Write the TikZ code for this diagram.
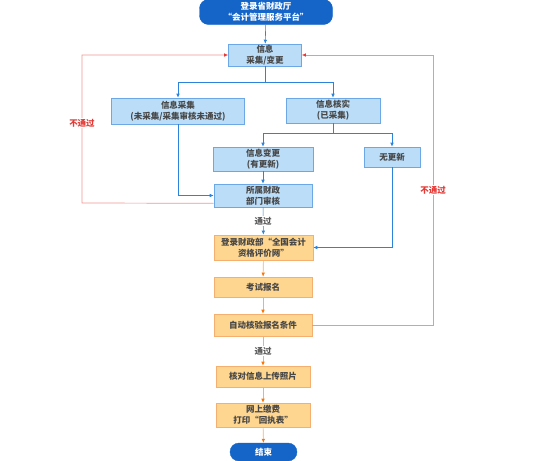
\documentclass[tikz,border=0pt]{standalone}
\usepackage{fontspec}
\newfontfamily\cjk{Noto Sans CJK SC}
\usepackage{tikz}
\usetikzlibrary{arrows.meta}
\definecolor{deepblue}{HTML}{1565C9}
\definecolor{boxblue}{HTML}{BBDDF8}
\definecolor{lineblue}{HTML}{2B83DA}
\definecolor{boxorange}{HTML}{FFD690}
\definecolor{lineorange}{HTML}{F5B070}
\definecolor{lred}{HTML}{F29494}
\definecolor{tred}{HTML}{E53935}

\begin{document}
\begin{tikzpicture}[x=1pt,y=-1pt,
	every node/.style={font=\cjk\bfseries\fontsize{8.5}{11}\selectfont,text=black!72,align=center,inner sep=1pt},
	term/.style={draw=deepblue,fill=deepblue,rounded corners=9pt,text=white,font=\cjk\bfseries\fontsize{8.5}{11}\selectfont},
	bbox/.style={draw=lineblue!70,fill=boxblue,line width=0.6pt},
	obox/.style={draw=lineorange,fill=boxorange,line width=0.6pt},
	barr/.style={draw=lineblue,line width=0.6pt,-{Latex[length=4pt,width=3.5pt]}},
	oarr/.style={draw=lineorange,line width=0.6pt,-{Latex[length=4pt,width=3.5pt,fill=orange!90!red,color=orange!90!red]}},
	nopass/.style={draw=lred,line width=0.7pt,-{Latex[length=4pt,width=3.5pt,color=tred]}},
	pass/.style={fill=white,text=black!65},
	fail/.style={fill=white,text=tred}]
\useasboundingbox (0,0) rectangle (550,461);
\node [term,minimum width=133pt,minimum height=25pt] (start) at (266,12) {登录省财政厅\\“会计管理服务平台”};
\node [bbox,minimum width=73pt,minimum height=20pt] (info) at (265,55) {信息\\采集/变更};
\node [bbox,minimum width=133pt,minimum height=26pt] (collect) at (178,111) {信息采集\\(未采集/采集审核未通过)};
\node [bbox,minimum width=94pt,minimum height=25pt] (verify) at (333,110.5) {信息核实\\(已采集)};
\node [bbox,minimum width=100pt,minimum height=24pt] (change) at (263,159) {信息变更\\(有更新)};
\node [bbox,minimum width=56pt,minimum height=20pt] (noupd) at (392,157) {无更新};
\node [bbox,minimum width=98pt,minimum height=23pt] (dept) at (263,195.5) {所属财政\\部门审核};
\node [obox,minimum width=99pt,minimum height=25pt] (login) at (263.5,247.5) {登录财政部“全国会计\\资格评价网”};
\node [obox,minimum width=98pt,minimum height=20pt] (exam) at (263,287) {考试报名};
\node [obox,minimum width=98pt,minimum height=22pt] (auto) at (263,325) {自动核验报名条件};
\node [obox,minimum width=94pt,minimum height=21pt] (check) at (263,376.5) {核对信息上传照片};
\node [obox,minimum width=94pt,minimum height=24pt] (pay) at (263,415) {网上缴费\\打印“回执表”};
\node [term,minimum width=67pt,minimum height=18pt] (end) at (263.5,452) {结束};

% branch points
\coordinate (s1) at (265,82);
\coordinate (s2) at (333,133);
\coordinate (rl) at (82,203);
\coordinate (rr) at (433,325);

\draw [barr] (start) -- (info);
\draw [lineblue,line width=0.6pt] (info) -- (s1);
\draw [barr] (s1) -| (collect);
\draw [barr] (s1) -| (verify);
\draw [lineblue,line width=0.6pt] (verify) -- (s2);
\draw [barr] (s2) -| (change);
\draw [barr] (s2) -| (noupd);
\draw [barr] (change) -- (dept);
\draw [barr] (collect.south) |- (dept.west);
\draw [barr] (dept) -- node [pass] {通过} (login);
\draw [barr] (noupd.south) |- (login.east);
\draw [oarr] (login) -- (exam);
\draw [oarr] (exam) -- (auto);
\draw [oarr] (auto) -- node [pass] {通过} (check);
\draw [oarr] (check) -- (pay);
\draw [oarr] (pay) -- (end);
\draw [nopass] ([yshift=4pt]dept.south west) -- (rl) |- node [fail,pos=0.27] {不通过} (info.west);
\draw [nopass] (auto.east) -- (rr) |- node [fail,pos=0.25] {不通过} (info.east);
\end{tikzpicture}
\end{document}
